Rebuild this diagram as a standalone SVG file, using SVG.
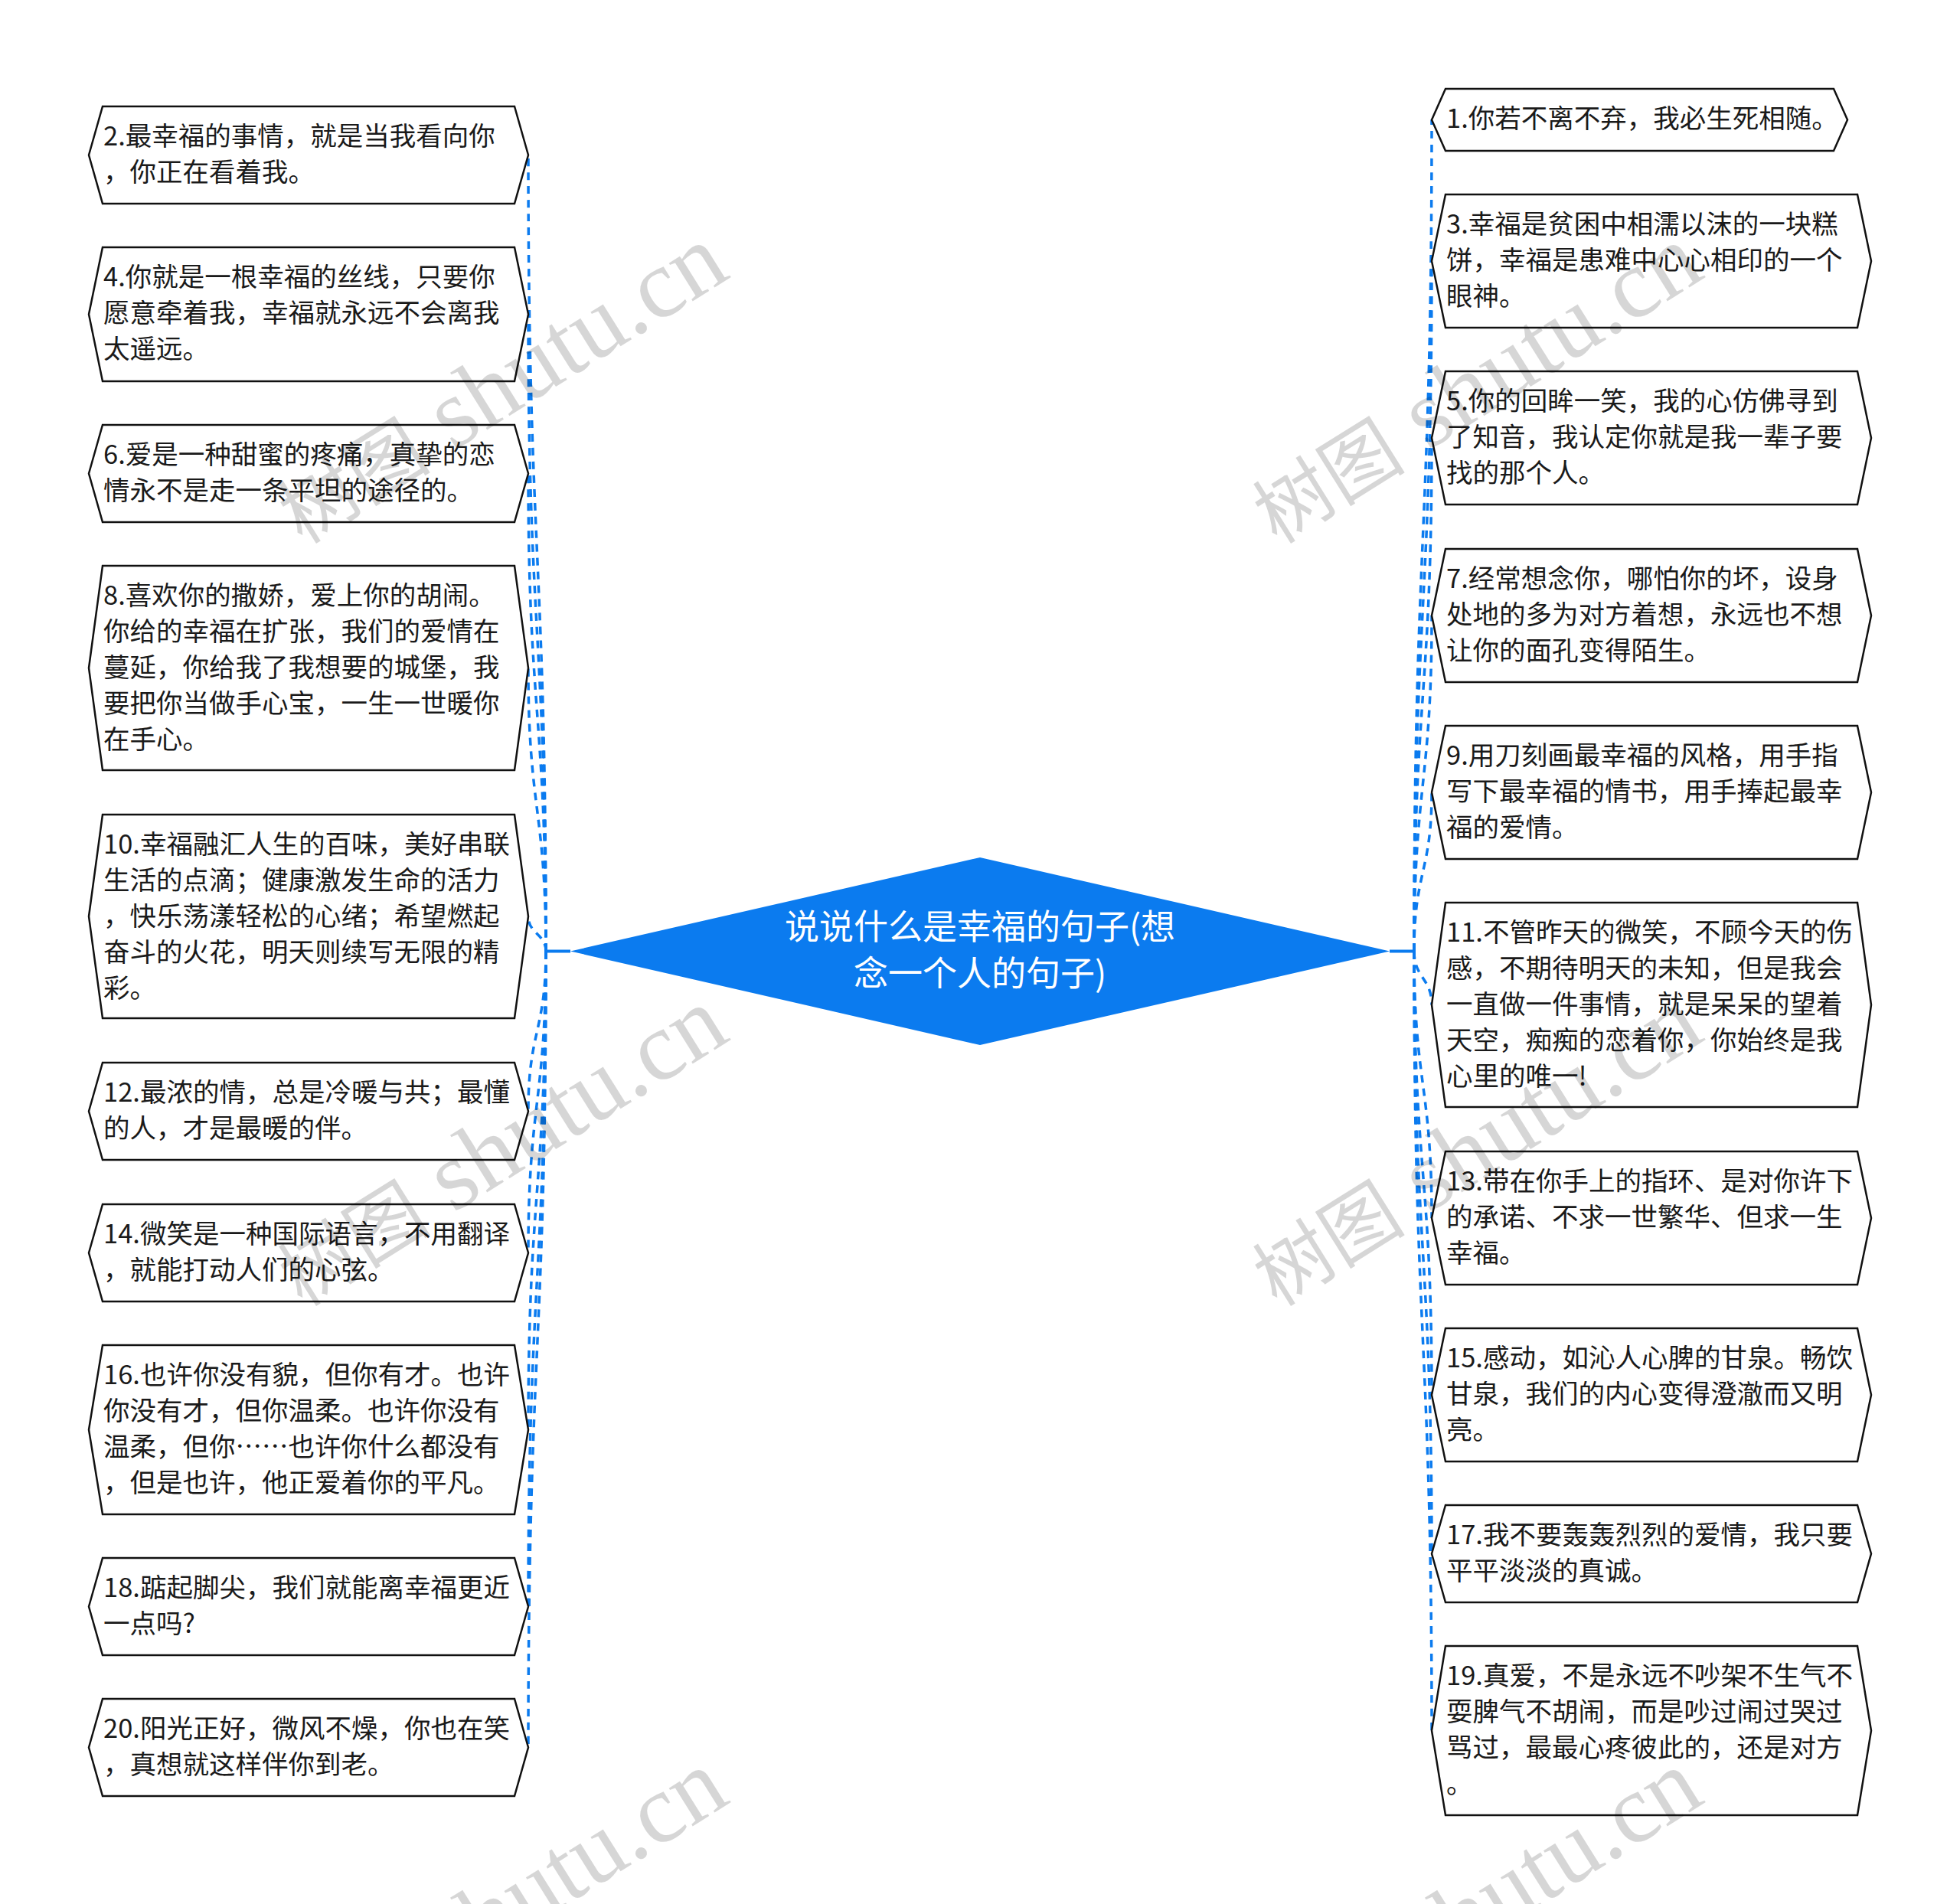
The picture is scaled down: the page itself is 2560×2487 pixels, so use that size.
<svg xmlns="http://www.w3.org/2000/svg" width="2560" height="2487" viewBox="0 0 2560 2487">
<style>
.node polygon{fill:#ffffff;stroke:#111111;stroke-width:2.5;stroke-linejoin:miter}
.node text{font-family:"Noto Sans CJK SC","Noto Sans",sans-serif;font-size:34.5px;fill:#1a1a1a}
.conn path{fill:none;stroke:#0B7BEF;stroke-width:3.5;stroke-dasharray:10 8}
.conn line{stroke:#0B7BEF;stroke-width:4}
.center polygon{fill:#0B7BEF}
.center text{font-family:"Noto Sans CJK SC","Noto Sans",sans-serif;font-size:45px;fill:#ffffff;text-anchor:middle}
.wm text{font-family:"Liberation Serif","Noto Sans CJK SC",serif;font-size:128px;fill:#000000;fill-opacity:0.16}
.wm .cj{font-family:"Noto Sans CJK SC",sans-serif;font-size:100px}
</style>
<rect x="0" y="0" width="2560" height="2487" fill="#ffffff"/>
<g class="conn">
<line x1="745" y1="1242.5" x2="713" y2="1242.5"/>
<line x1="1815" y1="1242.5" x2="1847" y2="1242.5"/>
<path d="M713 1242.5 C713 722.5 690 722.5 690 202.5"/>
<path d="M713 1242.5 C713 826.5 690 826.5 690 410.5"/>
<path d="M713 1242.5 C713 930.5 690 930.5 690 618.5"/>
<path d="M713 1242.5 C713 1057.5 690 1057.5 690 872.5"/>
<path d="M713 1242.5 C713 1219.75 690 1219.75 690 1197"/>
<path d="M713 1242.5 C713 1347 690 1347 690 1451.5"/>
<path d="M713 1242.5 C713 1439.5 690 1439.5 690 1636.5"/>
<path d="M713 1242.5 C713 1555 690 1555 690 1867.5"/>
<path d="M713 1242.5 C713 1670.5 690 1670.5 690 2098.5"/>
<path d="M713 1242.5 C713 1762.5 690 1762.5 690 2282.5"/>
<path d="M1847 1242.5 C1847 699.5 1870 699.5 1870 156.5"/>
<path d="M1847 1242.5 C1847 791.75 1870 791.75 1870 341"/>
<path d="M1847 1242.5 C1847 907.25 1870 907.25 1870 572"/>
<path d="M1847 1242.5 C1847 1023.25 1870 1023.25 1870 804"/>
<path d="M1847 1242.5 C1847 1138.75 1870 1138.75 1870 1035"/>
<path d="M1847 1242.5 C1847 1277.5 1870 1277.5 1870 1312.5"/>
<path d="M1847 1242.5 C1847 1416.75 1870 1416.75 1870 1591"/>
<path d="M1847 1242.5 C1847 1532.25 1870 1532.25 1870 1822"/>
<path d="M1847 1242.5 C1847 1636 1870 1636 1870 2029.5"/>
<path d="M1847 1242.5 C1847 1751.5 1870 1751.5 1870 2260.5"/>
</g>
<g id="center" class="center">
<polygon points="745,1242.5 1280,1120 1815,1242.5 1280,1365"/>
<text x="1280" y="1227">说说什么是幸福的句子(想</text>
<text x="1280" y="1288">念一个人的句子)</text>
</g>
<g id="n2" class="node">
<polygon points="116,202.5 134,139 672,139 690,202.5 672,266 134,266"/>
<text x="135" y="190">2.最幸福的事情，就是当我看向你</text>
<text x="135" y="237">，你正在看着我。</text>
</g>
<g id="n4" class="node">
<polygon points="116,410.5 134,323 672,323 690,410.5 672,498 134,498"/>
<text x="135" y="374">4.你就是一根幸福的丝线，只要你</text>
<text x="135" y="421">愿意牵着我，幸福就永远不会离我</text>
<text x="135" y="468">太遥远。</text>
</g>
<g id="n6" class="node">
<polygon points="116,618.5 134,555 672,555 690,618.5 672,682 134,682"/>
<text x="135" y="606">6.爱是一种甜蜜的疼痛，真挚的恋</text>
<text x="135" y="653">情永不是走一条平坦的途径的。</text>
</g>
<g id="n8" class="node">
<polygon points="116,872.5 134,739 672,739 690,872.5 672,1006 134,1006"/>
<text x="135" y="790">8.喜欢你的撒娇，爱上你的胡闹。</text>
<text x="135" y="837">你给的幸福在扩张，我们的爱情在</text>
<text x="135" y="884">蔓延，你给我了我想要的城堡，我</text>
<text x="135" y="931">要把你当做手心宝，一生一世暖你</text>
<text x="135" y="978">在手心。</text>
</g>
<g id="n10" class="node">
<polygon points="116,1197 134,1064 672,1064 690,1197 672,1330 134,1330"/>
<text x="135" y="1115">10.幸福融汇人生的百味，美好串联</text>
<text x="135" y="1162">生活的点滴；健康激发生命的活力</text>
<text x="135" y="1209">，快乐荡漾轻松的心绪；希望燃起</text>
<text x="135" y="1256">奋斗的火花，明天则续写无限的精</text>
<text x="135" y="1303">彩。</text>
</g>
<g id="n12" class="node">
<polygon points="116,1451.5 134,1388 672,1388 690,1451.5 672,1515 134,1515"/>
<text x="135" y="1439">12.最浓的情，总是冷暖与共；最懂</text>
<text x="135" y="1486">的人，才是最暖的伴。</text>
</g>
<g id="n14" class="node">
<polygon points="116,1636.5 134,1573 672,1573 690,1636.5 672,1700 134,1700"/>
<text x="135" y="1624">14.微笑是一种国际语言，不用翻译</text>
<text x="135" y="1671">，就能打动人们的心弦。</text>
</g>
<g id="n16" class="node">
<polygon points="116,1867.5 134,1757 672,1757 690,1867.5 672,1978 134,1978"/>
<text x="135" y="1808">16.也许你没有貌，但你有才。也许</text>
<text x="135" y="1855">你没有才，但你温柔。也许你没有</text>
<text x="135" y="1902">温柔，但你……也许你什么都没有</text>
<text x="135" y="1949">，但是也许，他正爱着你的平凡。</text>
</g>
<g id="n18" class="node">
<polygon points="116,2098.5 134,2035 672,2035 690,2098.5 672,2162 134,2162"/>
<text x="135" y="2086">18.踮起脚尖，我们就能离幸福更近</text>
<text x="135" y="2133">一点吗?</text>
</g>
<g id="n20" class="node">
<polygon points="116,2282.5 134,2219 672,2219 690,2282.5 672,2346 134,2346"/>
<text x="135" y="2270">20.阳光正好，微风不燥，你也在笑</text>
<text x="135" y="2317">，真想就这样伴你到老。</text>
</g>
<g id="n1" class="node">
<polygon points="1870,156.5 1888,116 2395,116 2413,156.5 2395,197 1888,197"/>
<text x="1889" y="167">1.你若不离不弃，我必生死相随。</text>
</g>
<g id="n3" class="node">
<polygon points="1870,341 1888,254 2426,254 2444,341 2426,428 1888,428"/>
<text x="1889" y="305">3.幸福是贫困中相濡以沫的一块糕</text>
<text x="1889" y="352">饼，幸福是患难中心心相印的一个</text>
<text x="1889" y="399">眼神。</text>
</g>
<g id="n5" class="node">
<polygon points="1870,572 1888,485 2426,485 2444,572 2426,659 1888,659"/>
<text x="1889" y="536">5.你的回眸一笑，我的心仿佛寻到</text>
<text x="1889" y="583">了知音，我认定你就是我一辈子要</text>
<text x="1889" y="630">找的那个人。</text>
</g>
<g id="n7" class="node">
<polygon points="1870,804 1888,717 2426,717 2444,804 2426,891 1888,891"/>
<text x="1889" y="768">7.经常想念你，哪怕你的坏，设身</text>
<text x="1889" y="815">处地的多为对方着想，永远也不想</text>
<text x="1889" y="862">让你的面孔变得陌生。</text>
</g>
<g id="n9" class="node">
<polygon points="1870,1035 1888,948 2426,948 2444,1035 2426,1122 1888,1122"/>
<text x="1889" y="999">9.用刀刻画最幸福的风格，用手指</text>
<text x="1889" y="1046">写下最幸福的情书，用手捧起最幸</text>
<text x="1889" y="1093">福的爱情。</text>
</g>
<g id="n11" class="node">
<polygon points="1870,1312.5 1888,1179 2426,1179 2444,1312.5 2426,1446 1888,1446"/>
<text x="1889" y="1230">11.不管昨天的微笑，不顾今天的伤</text>
<text x="1889" y="1277">感，不期待明天的未知，但是我会</text>
<text x="1889" y="1324">一直做一件事情，就是呆呆的望着</text>
<text x="1889" y="1371">天空，痴痴的恋着你，你始终是我</text>
<text x="1889" y="1418">心里的唯一!</text>
</g>
<g id="n13" class="node">
<polygon points="1870,1591 1888,1504 2426,1504 2444,1591 2426,1678 1888,1678"/>
<text x="1889" y="1555">13.带在你手上的指环、是对你许下</text>
<text x="1889" y="1602">的承诺、不求一世繁华、但求一生</text>
<text x="1889" y="1649">幸福。</text>
</g>
<g id="n15" class="node">
<polygon points="1870,1822 1888,1735 2426,1735 2444,1822 2426,1909 1888,1909"/>
<text x="1889" y="1786">15.感动，如沁人心脾的甘泉。畅饮</text>
<text x="1889" y="1833">甘泉，我们的内心变得澄澈而又明</text>
<text x="1889" y="1880">亮。</text>
</g>
<g id="n17" class="node">
<polygon points="1870,2029.5 1888,1966 2426,1966 2444,2029.5 2426,2093 1888,2093"/>
<text x="1889" y="2017">17.我不要轰轰烈烈的爱情，我只要</text>
<text x="1889" y="2064">平平淡淡的真诚。</text>
</g>
<g id="n19" class="node">
<polygon points="1870,2260.5 1888,2150 2426,2150 2444,2260.5 2426,2371 1888,2371"/>
<text x="1889" y="2201">19.真爱，不是永远不吵架不生气不</text>
<text x="1889" y="2248">耍脾气不胡闹，而是吵过闹过哭过</text>
<text x="1889" y="2295">骂过，最最心疼彼此的，还是对方</text>
<text x="1889" y="2342">。</text>
</g>
<g class="wm">
<text transform="translate(395,712) rotate(-32)"><tspan class="cj">树图</tspan> shutu.cn</text>
<text transform="translate(395,1708) rotate(-32)"><tspan class="cj">树图</tspan> shutu.cn</text>
<text transform="translate(395,2704) rotate(-32)"><tspan class="cj">树图</tspan> shutu.cn</text>
<text transform="translate(1668,712) rotate(-32)"><tspan class="cj">树图</tspan> shutu.cn</text>
<text transform="translate(1668,1708) rotate(-32)"><tspan class="cj">树图</tspan> shutu.cn</text>
<text transform="translate(1668,2704) rotate(-32)"><tspan class="cj">树图</tspan> shutu.cn</text>
</g>
</svg>
